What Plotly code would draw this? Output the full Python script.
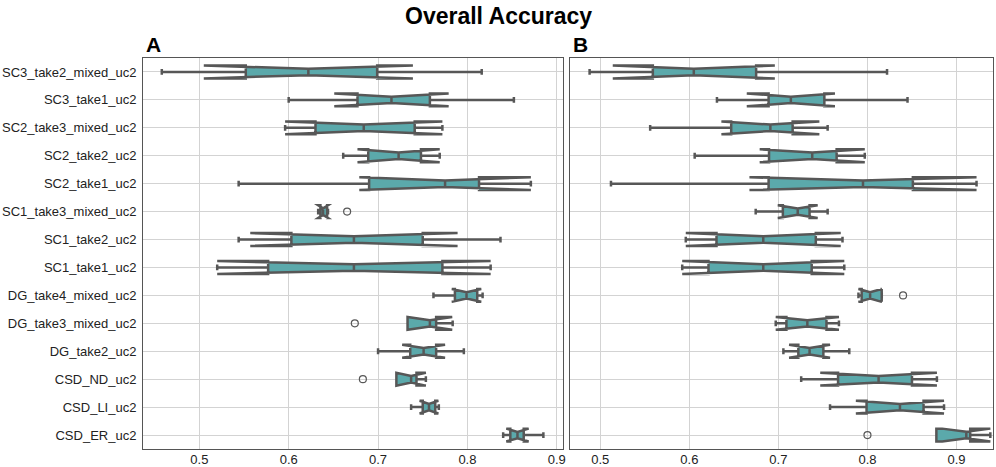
import plotly.graph_objects as go

categories = ["SC3_take2_mixed_uc2", "SC3_take1_uc2", "SC2_take3_mixed_uc2", "SC2_take2_uc2",
              "SC2_take1_uc2", "SC1_take3_mixed_uc2", "SC1_take2_uc2", "SC1_take1_uc2",
              "DG_take4_mixed_uc2", "DG_take3_mixed_uc2", "DG_take2_uc2", "CSD_ND_uc2",
              "CSD_LI_uc2", "CSD_ER_uc2"]

# panel A stats
a_low = [0.458, 0.600, 0.620, 0.661, 0.544, 0.6355, 0.544, 0.553, 0.762, 0.733, 0.700, 0.7205, 0.737, 0.840]
a_q1 = [0.552, 0.677, 0.630, 0.689, 0.690, 0.6355, 0.603, 0.577, 0.786, 0.733, 0.736, 0.7205, 0.750, 0.848]
a_med = [0.622, 0.715, 0.684, 0.723, 0.775, 0.6385, 0.673, 0.673, 0.799, 0.758, 0.751, 0.737, 0.757, 0.856]
a_q3 = [0.699, 0.758, 0.741, 0.748, 0.813, 0.6430, 0.750, 0.772, 0.811, 0.765, 0.765, 0.743, 0.764, 0.863]
a_high = [0.816, 0.852, 0.7535, 0.748, 0.8216, 0.6430, 0.837, 0.813, 0.817, 0.7835, 0.796, 0.749, 0.768, 0.885]
a_notch = [0.117, 0.064, 0.088, 0.046, 0.096, 0.0055, 0.116, 0.153, 0.0165, 0.025, 0.024, 0.0165, 0.0105, 0.0125]
a_out_x = [0.6654, 0.674, 0.683]
a_out_y = ["SC1_take3_mixed_uc2", "DG_take3_mixed_uc2", "CSD_ND_uc2"]

# panel B stats
b_low = [0.488, 0.631, 0.556, 0.606, 0.512, 0.6745, 0.6305, 0.600, 0.790, 0.700, 0.7056, 0.7256, 0.758, 0.8774]
b_q1 = [0.559, 0.689, 0.647, 0.6895, 0.689, 0.705, 0.6305, 0.6215, 0.7935, 0.709, 0.7224, 0.767, 0.799, 0.8774]
b_med = [0.605, 0.714, 0.691, 0.738, 0.795, 0.7217, 0.683, 0.683, 0.803, 0.7325, 0.735, 0.8125, 0.8365, 0.911]
b_q3 = [0.675, 0.7516, 0.716, 0.7654, 0.851, 0.735, 0.742, 0.7374, 0.816, 0.754, 0.7505, 0.850, 0.863, 0.9154]
b_high = [0.822, 0.845, 0.7553, 0.787, 0.872, 0.7553, 0.772, 0.741, 0.816, 0.756, 0.7796, 0.869, 0.883, 0.9203]
b_notch = [0.091, 0.0495, 0.055, 0.059, 0.1275, 0.0224, 0.087, 0.091, 0.0131, 0.0355, 0.023, 0.0655, 0.0495, 0.027]
b_out_x = [0.840, 0.800]
b_out_y = ["DG_take4_mixed_uc2", "CSD_ER_uc2"]

fill = "#5ba9ab"
edge = "#575757"

fig = go.Figure()

def add_panel(low, q1, med, q3, high, notch, ox, oy, xa, ya):
    fig.add_trace(go.Box(
        y=categories, q1=q1, median=med, q3=q3, lowerfence=low, upperfence=high,
        notchspan=notch, notched=True, notchwidth=0.25, orientation="h",
        fillcolor=fill, line=dict(color=edge, width=2.5), width=0.46,
        whiskerwidth=0.45, boxpoints=False, showlegend=False,
        xaxis=xa, yaxis=ya))
    fig.add_trace(go.Scatter(
        x=ox, y=oy, mode="markers", showlegend=False,
        marker=dict(symbol="circle-open", size=7, color=edge, line=dict(width=1.2)),
        xaxis=xa, yaxis=ya))

add_panel(a_low, a_q1, a_med, a_q3, a_high, a_notch, a_out_x, a_out_y, "x", "y")
add_panel(b_low, b_q1, b_med, b_q3, b_high, b_notch, b_out_x, b_out_y, "x2", "y2")

axis_common = dict(showgrid=True, gridcolor="#d3d3d3", gridwidth=1, showline=True,
                   mirror=True, linecolor="#555555", linewidth=1, zeroline=False,
                   tickfont=dict(family="Liberation Sans", size=13, color="#222222"),
                   ticks="", ticklen=0, automargin=False)

xticks = [0.5, 0.6, 0.7, 0.8, 0.9]

fig.update_layout(
    width=996, height=467,
    margin=dict(l=0, r=0, t=0, b=0),
    paper_bgcolor="white", plot_bgcolor="white",
    xaxis=dict(domain=[0.1436, 0.5653], range=[0.437, 0.907],
               tickvals=xticks, ticklabelstandoff=-2, anchor="y", **axis_common),
    yaxis=dict(domain=[0.0385, 0.8758], categoryorder="array", categoryarray=categories,
               range=[13.5, -0.5], ticklabelstandoff=3, anchor="x", **axis_common),
    xaxis2=dict(domain=[0.5723, 0.997], range=[0.466, 0.941],
                tickvals=xticks, ticklabelstandoff=-2, anchor="y2", **axis_common),
    yaxis2=dict(domain=[0.0385, 0.8758], categoryorder="array", categoryarray=categories,
                range=[13.5, -0.5], showticklabels=False, anchor="x2", **axis_common),
    annotations=[
        dict(text="<b>Overall Accuracy</b>", x=0.5, y=1.0, xref="paper", yref="paper",
             xanchor="center", yanchor="top", yshift=-1, showarrow=False,
             font=dict(family="Liberation Sans", size=23, color="black")),
        dict(text="<b>A</b>", x=0.1436, y=0.8758, xref="paper", yref="paper",
             xanchor="left", yanchor="bottom", xshift=1, showarrow=False,
             font=dict(family="Liberation Sans", size=21, color="black")),
        dict(text="<b>B</b>", x=0.5723, y=0.8758, xref="paper", yref="paper",
             xanchor="left", yanchor="bottom", xshift=1, showarrow=False,
             font=dict(family="Liberation Sans", size=21, color="black")),
    ],
)

# page body has a default margin, drop it so the figure fills the window
fig.write_html("out.html", config={"displayModeBar": False},
               post_script="document.body.style.margin='0';document.body.style.overflow='hidden';")
